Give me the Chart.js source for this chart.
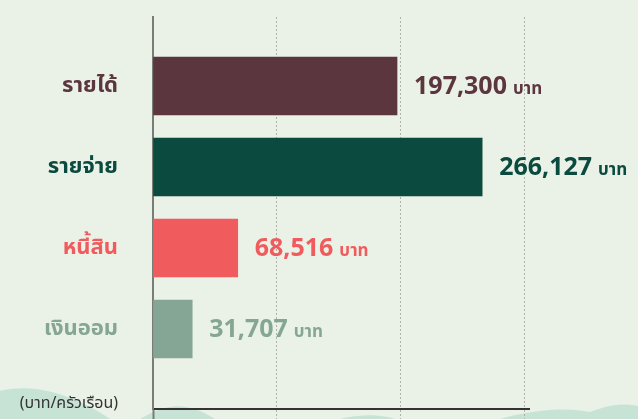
<!DOCTYPE html>
<html>
<head>
<meta charset="utf-8">
<script src="https://cdn.jsdelivr.net/npm/chart.js@4"></script>
<style>
  html, body { margin: 0; padding: 0; background: #eaf1e6; overflow: hidden; }
  canvas { display: block; }
</style>
</head>
<body>
<canvas id="grafica" width="638" height="419"></canvas>
<script>
// Datos de la gráfica
const categorias = ['รายได้', 'รายจ่าย', 'หนี้สิน', 'เงินออม'];
const valores = [197300, 266127, 68516, 31707];
const colores = ['#5c363f', '#0b4a3f', '#f05b5d', '#86a695'];
const ticksX = [0, 100000, 200000, 300000];
const maxX = 304000;
const unidad = 'บาท';
const tituloEje = '(บาท/ครัวเรือน)';

const fuente = "'Noto Sans', 'Noto Sans Thai', sans-serif";

// Fondo con colinas decorativas
const fondo = {
    id: 'fondo',
    beforeDraw(chart) {
        const c = chart.ctx;
        const w = chart.width, h = chart.height;
        c.save();
        c.fillStyle = '#eaf1e6';
        c.fillRect(0, 0, w, h);
        c.fillStyle = '#c7e3d6';
        c.beginPath();
        c.moveTo(0, h);
        c.lineTo(0, 391);
        c.bezierCurveTo(30, 383, 70, 392, 110, h);
        c.closePath();
        c.fill();
        c.beginPath();
        c.moveTo(140, h);
        c.bezierCurveTo(165, 404, 185, 400, 215, h);
        c.closePath();
        c.fill();
        c.beginPath();
        c.moveTo(340, h);
        c.bezierCurveTo(360, 414, 380, 414, 395, h);
        c.closePath();
        c.fill();
        c.beginPath();
        c.moveTo(500, h);
        c.bezierCurveTo(540, 408, 570, 408, 590, 412);
        c.bezierCurveTo(610, 404, 625, 403, w, 406);
        c.lineTo(w, h);
        c.closePath();
        c.fill();
        c.restore();
    }
};

// Etiquetas de valor y título del eje
const etiquetas = {
    id: 'etiquetas',
    afterDatasetsDraw(chart) {
        const c = chart.ctx;
        const meta = chart.getDatasetMeta(0);
        c.save();
        c.textBaseline = 'middle';
        meta.data.forEach(function (bar, i) {
            const texto = valores[i].toLocaleString('en-US');
            c.fillStyle = colores[i];
            c.font = 'bold 25px ' + fuente;
            const x = bar.x + 17;
            c.fillText(texto, x, bar.y + 1);
            const ancho = c.measureText(texto).width;
            c.font = 'bold 17px ' + fuente;
            c.fillText(unidad, x + ancho + 6, bar.y + 3);
        });
        const area = chart.chartArea;
        c.fillStyle = '#333333';
        c.font = '16px ' + fuente;
        c.textAlign = 'right';
        c.fillText(tituloEje, area.left - 35, area.bottom - 6);
        c.restore();
    }
};

const ctx = document.getElementById('grafica').getContext('2d');
new Chart(ctx, {
    type: 'bar',
    data: {
        datasets: [{
            data: valores.map(function (v, i) { return { x: v, y: i }; }),
            backgroundColor: colores,
            barThickness: 58,
            borderWidth: 0
        }]
    },
    options: {
        indexAxis: 'y',
        responsive: false,
        animation: false,
        devicePixelRatio: 1,
        layout: { padding: { top: 17, right: 109, bottom: 0, left: 0 } },
        plugins: {
            legend: { display: false },
            tooltip: { enabled: false }
        },
        scales: {
            x: {
                type: 'linear',
                min: 0,
                max: maxX,
                afterBuildTicks: function (axis) {
                    axis.ticks = ticksX.map(function (v) { return { value: v }; });
                },
                afterFit: function (axis) {
                    axis.height = 10;
                    axis.paddingLeft = 0;
                    axis.paddingRight = 0;
                },
                ticks: { display: false },
                grid: {
                    color: function (c) { return c.tick && c.tick.value === 0 ? 'rgba(0,0,0,0)' : '#aeb2ab'; },
                    lineWidth: 1,
                    tickLength: 10,
                    tickColor: function (c) { return c.tick && c.tick.value === 0 ? '#7a7c78' : '#aeb2ab'; },
                    tickWidth: function (c) { return c.tick && c.tick.value === 0 ? 2 : 1; },
                    tickBorderDash: function (c) { return c.tick && c.tick.value === 0 ? [] : [2, 2]; }
                },
                border: {
                    display: true,
                    color: '#333333',
                    width: 2,
                    dash: [2, 2]
                }
            },
            y: {
                type: 'linear',
                reverse: true,
                offset: false,
                min: -0.852,
                max: 3.988,
                afterBuildTicks: function (axis) {
                    axis.ticks = categorias.map(function (n, i) { return { value: i }; });
                },
                afterFit: function (axis) {
                    axis.width = 153;
                    axis.paddingTop = 0;
                    axis.paddingBottom = 0;
                },
                ticks: {
                    padding: 35,
                    callback: function (v) { return categorias[v]; },
                    color: function (c) { return colores[c.index]; },
                    font: { family: fuente, size: 22, weight: 'bold' }
                },
                grid: { display: false, drawTicks: false, offset: false },
                border: { display: true, color: '#7a7c78', width: 2 }
            }
        }
    },
    plugins: [fondo, etiquetas]
});
</script>
</body>
</html>
